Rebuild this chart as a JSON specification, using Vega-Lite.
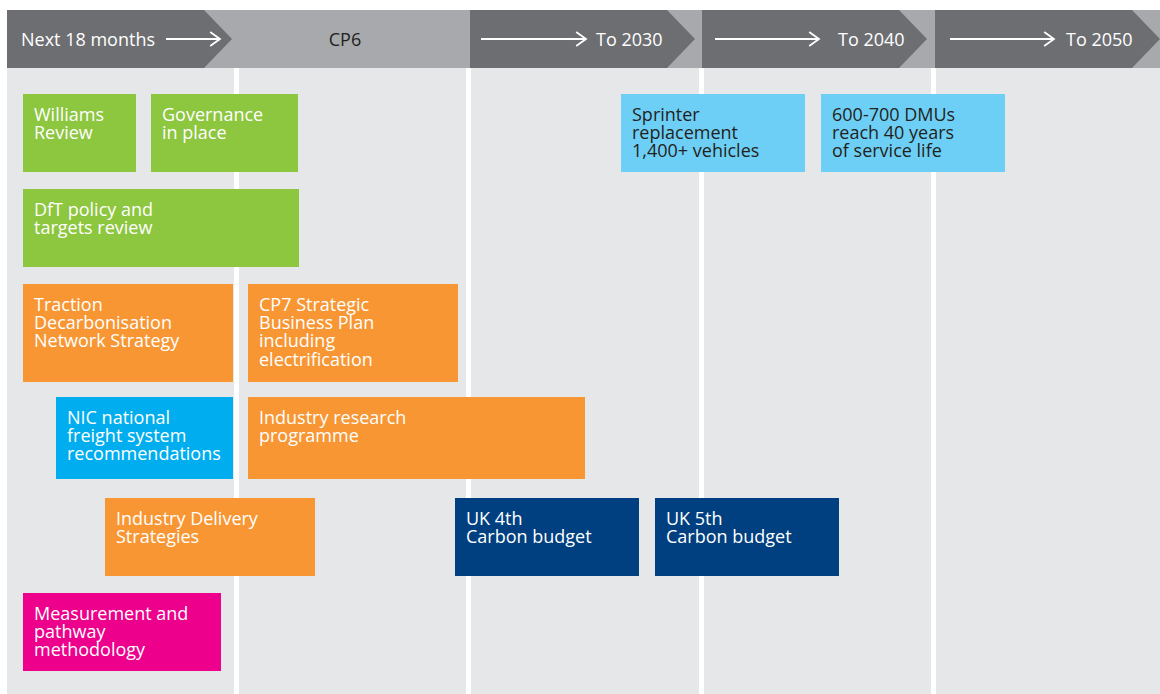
{
  "$schema": "https://vega.github.io/schema/vega-lite/v6.json",
  "width": 1160,
  "height": 694,
  "padding": 0,
  "autosize": {"type": "fit", "contains": "padding"},
  "background": "white",
  "config": {"view": {"stroke": null}},
  "datasets": {
    "columns": [
      {"col": "Next 18 months", "start": 7, "end": 234},
      {"col": "CP6", "start": 239, "end": 466},
      {"col": "To 2030", "start": 471, "end": 699},
      {"col": "To 2040", "start": 704, "end": 931},
      {"col": "To 2050", "start": 936, "end": 1160}
    ],
    "chevrons": [
      {"seg": "Next 18 months", "x": 7, "top": 10, "bottom": 68},
      {"seg": "Next 18 months", "x": 204, "top": 10, "bottom": 68},
      {"seg": "Next 18 months", "x": 232, "top": 39, "bottom": 39},
      {"seg": "To 2030", "x": 470, "top": 10, "bottom": 68},
      {"seg": "To 2030", "x": 667, "top": 10, "bottom": 68},
      {"seg": "To 2030", "x": 695, "top": 39, "bottom": 39},
      {"seg": "To 2040", "x": 702, "top": 10, "bottom": 68},
      {"seg": "To 2040", "x": 899, "top": 10, "bottom": 68},
      {"seg": "To 2040", "x": 927, "top": 39, "bottom": 39},
      {"seg": "To 2050", "x": 935, "top": 10, "bottom": 68},
      {"seg": "To 2050", "x": 1132, "top": 10, "bottom": 68},
      {"seg": "To 2050", "x": 1160, "top": 39, "bottom": 39}
    ],
    "headers": [
      {"label": "Next 18 months", "x": 21},
      {"label": "CP6", "x": 345},
      {"label": "To 2030", "x": 596},
      {"label": "To 2040", "x": 838},
      {"label": "To 2050", "x": 1066}
    ],
    "arrows": [
      {"arrow": "Next 18 months", "from": 166, "to": 220},
      {"arrow": "To 2030", "from": 481, "to": 586},
      {"arrow": "To 2040", "from": 715, "to": 819},
      {"arrow": "To 2050", "from": 950, "to": 1054}
    ],
    "boxes": [
      {"label": "Williams\nReview", "group": "policy", "start": 23, "end": 136, "top": 94, "bottom": 172},
      {"label": "Governance\nin place", "group": "policy", "start": 151, "end": 298, "top": 94, "bottom": 172},
      {"label": "DfT policy and\ntargets review", "group": "policy", "start": 23, "end": 299, "top": 189, "bottom": 267},
      {"label": "Traction\nDecarbonisation\nNetwork Strategy", "group": "network", "start": 23, "end": 233, "top": 284, "bottom": 382},
      {"label": "CP7 Strategic\nBusiness Plan\nincluding\nelectrification", "group": "network", "start": 248, "end": 458, "top": 284, "bottom": 382},
      {"label": "NIC national\nfreight system\nrecommendations", "group": "freight", "start": 56, "end": 233, "top": 397, "bottom": 479},
      {"label": "Industry research\nprogramme", "group": "network", "start": 248, "end": 585, "top": 397, "bottom": 479},
      {"label": "Industry Delivery\nStrategies", "group": "network", "start": 105, "end": 315, "top": 498, "bottom": 576},
      {"label": "UK 4th\nCarbon budget", "group": "budget", "start": 455, "end": 639, "top": 498, "bottom": 576},
      {"label": "UK 5th\nCarbon budget", "group": "budget", "start": 655, "end": 839, "top": 498, "bottom": 576},
      {"label": "Measurement and\npathway\nmethodology", "group": "measurement", "start": 23, "end": 221, "top": 593, "bottom": 671},
      {"label": "Sprinter\nreplacement\n1,400+ vehicles", "group": "fleet", "start": 621, "end": 805, "top": 94, "bottom": 172},
      {"label": "600-700 DMUs\nreach 40 years\nof service life", "group": "fleet", "start": 821, "end": 1005, "top": 94, "bottom": 172}
    ]
  },
  "resolve": {"scale": {"color": "independent"}},
  "layer": [
    {
      "data": {"name": "columns"},
      "mark": {"type": "rect", "color": "#e6e7e8"},
      "encoding": {
        "x": {"field": "start", "type": "quantitative", "axis": null, "scale": {"domain": [0, 1160], "nice": false, "zero": false}},
        "x2": {"field": "end"},
        "y": {"datum": 68, "type": "quantitative", "axis": null, "scale": {"domain": [0, 694], "nice": false, "zero": false, "reverse": true}},
        "y2": {"datum": 694}
      }
    },
    {
      "data": {"values": [{"band": "header"}]},
      "mark": {"type": "rect", "color": "#a7a9ac"},
      "encoding": {
        "x": {"datum": 7, "type": "quantitative", "axis": null},
        "x2": {"datum": 1160},
        "y": {"datum": 10, "type": "quantitative", "axis": null},
        "y2": {"datum": 68}
      }
    },
    {
      "data": {"name": "chevrons"},
      "mark": {"type": "area", "orient": "vertical", "color": "#6d6e71", "interpolate": "linear", "opacity": 1},
      "encoding": {
        "x": {"field": "x", "type": "quantitative", "axis": null},
        "y": {"field": "top", "type": "quantitative", "axis": null, "stack": null},
        "y2": {"field": "bottom"},
        "detail": {"field": "seg"}
      }
    },
    {
      "data": {"name": "headers"},
      "transform": [{"filter": "datum.label !== 'CP6'"}],
      "mark": {"type": "text", "align": "left", "baseline": "alphabetic", "font": "Open Sans", "fontSize": 18, "color": "white"},
      "encoding": {
        "x": {"field": "x", "type": "quantitative", "axis": null},
        "y": {"datum": 46, "type": "quantitative", "axis": null},
        "text": {"field": "label"}
      }
    },
    {
      "data": {"name": "headers"},
      "transform": [{"filter": "datum.label === 'CP6'"}],
      "mark": {"type": "text", "align": "center", "baseline": "alphabetic", "font": "Open Sans", "fontSize": 18, "color": "#231f20"},
      "encoding": {
        "x": {"field": "x", "type": "quantitative", "axis": null},
        "y": {"datum": 46, "type": "quantitative", "axis": null},
        "text": {"field": "label"}
      }
    },
    {
      "data": {"name": "arrows"},
      "mark": {"type": "rule", "color": "white", "strokeWidth": 1.8},
      "encoding": {
        "x": {"field": "from", "type": "quantitative", "axis": null},
        "x2": {"field": "to"},
        "y": {"datum": 39, "type": "quantitative", "axis": null}
      }
    },
    {
      "data": {"name": "arrows"},
      "mark": {"type": "point", "shape": "M -1.4 -1 L 0 0 L -1.4 1", "filled": false, "size": 196, "stroke": "white", "strokeWidth": 1.8, "opacity": 1},
      "encoding": {
        "x": {"field": "to", "type": "quantitative", "axis": null},
        "y": {"datum": 39, "type": "quantitative", "axis": null}
      }
    },
    {
      "data": {"name": "boxes"},
      "mark": {"type": "rect"},
      "encoding": {
        "x": {"field": "start", "type": "quantitative", "axis": null},
        "x2": {"field": "end"},
        "y": {"field": "top", "type": "quantitative", "axis": null},
        "y2": {"field": "bottom"},
        "color": {
          "field": "group", "type": "nominal", "legend": null,
          "scale": {"domain": ["policy", "network", "freight", "fleet", "budget", "measurement"], "range": ["#8dc63f", "#f79633", "#00aeef", "#6dcff6", "#004080", "#ec008c"]}
        }
      }
    },
    {
      "data": {"name": "boxes"},
      "mark": {"type": "text", "align": "left", "baseline": "alphabetic", "font": "Open Sans", "fontSize": 18, "fontWeight": 500, "lineHeight": 18.4, "lineBreak": "\n", "dx": 11, "dy": 26.5},
      "encoding": {
        "x": {"field": "start", "type": "quantitative", "axis": null},
        "y": {"field": "top", "type": "quantitative", "axis": null},
        "text": {"field": "label"},
        "color": {
          "field": "group", "type": "nominal", "legend": null,
          "scale": {"domain": ["policy", "network", "freight", "fleet", "budget", "measurement"], "range": ["#ffffff", "#ffffff", "#ffffff", "#231f20", "#ffffff", "#ffffff"]}
        }
      }
    }
  ]
}
